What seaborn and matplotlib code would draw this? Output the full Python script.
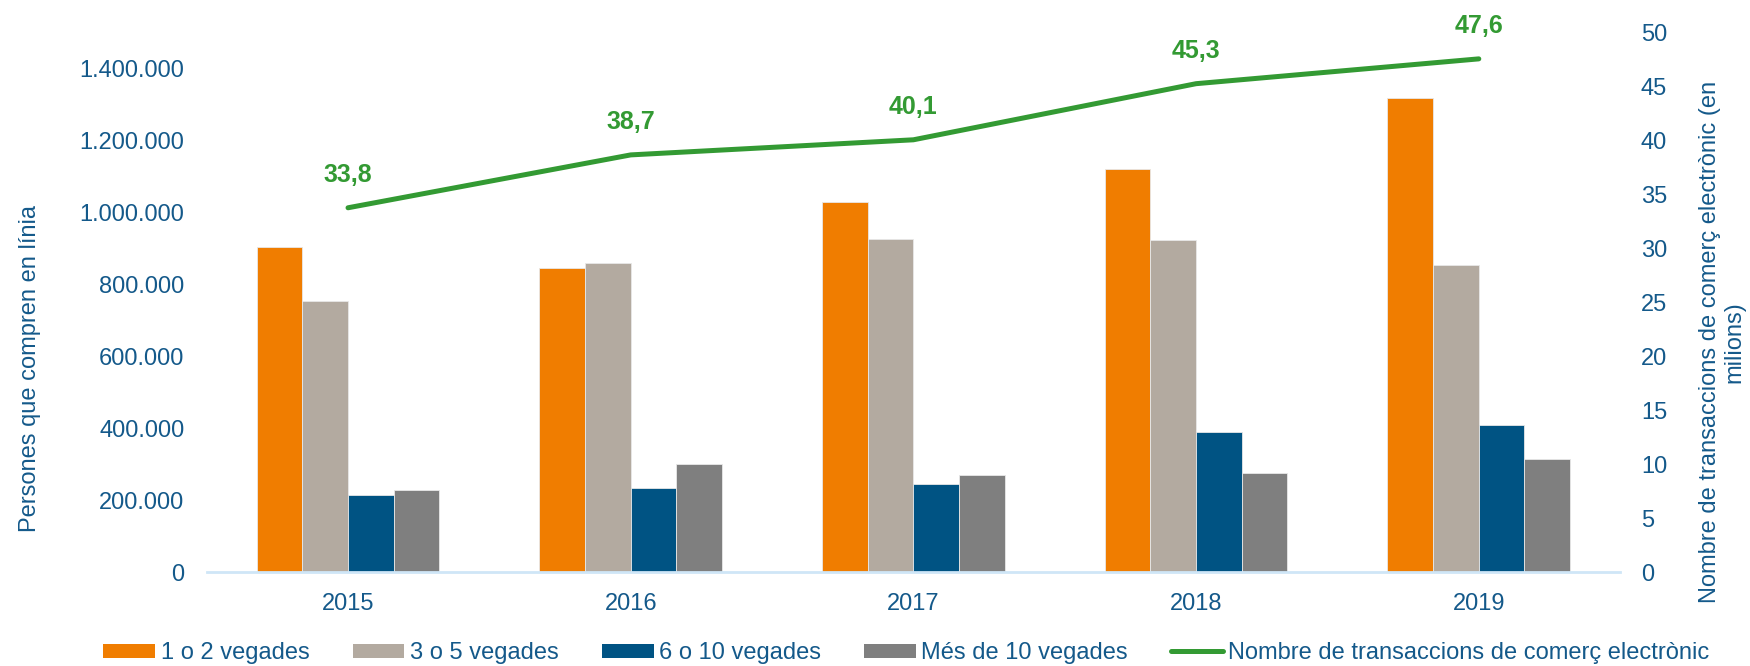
import numpy as np
import pandas as pd
import matplotlib
matplotlib.use("Agg")
import matplotlib.pyplot as plt
import seaborn as sns
from matplotlib.patches import Patch
from matplotlib.ticker import FuncFormatter

years = ["2015", "2016", "2017", "2018", "2019"]
series_names = ["1 o 2 vegades", "3 o 5 vegades", "6 o 10 vegades", "Més de 10 vegades"]
v_1_2 = [905000, 846000, 1030000, 1123000, 1319000]
v_3_5 = [755000, 861000, 927000, 925000, 855000]
v_6_10 = [216000, 236000, 247000, 390000, 409000]
v_mes_10 = [229000, 303000, 272000, 277000, 316000]
transaccions = [33.8, 38.7, 40.1, 45.3, 47.6]
line_name = "Nombre de transaccions de comerç electrònic"

colors = ["#F07D00", "#B3AAA0", "#005383", "#7F7F7F"]
green = "#339A33"
txt = "#14598A"
FS = 17

sns.set_theme(style="white")
plt.rcParams["font.family"] = ["Liberation Sans", "DejaVu Sans"]

df = pd.DataFrame({
    "any": years * 4,
    "serie": np.repeat(series_names, len(years)),
    "valor": v_1_2 + v_3_5 + v_6_10 + v_mes_10,
})

fig = plt.figure(figsize=(17.5, 6.66), dpi=100)
ax = fig.add_axes([0.1181, 0.1404, 0.8077, 0.8101])

sns.barplot(data=df, x="any", y="valor", hue="serie", hue_order=series_names,
            palette=colors, saturation=1, width=0.646, gap=0,
            edgecolor="#e8e8e8", linewidth=0.6, ax=ax, legend=False)

ax.set_ylim(0, 1500000)
ax.set_yticks(np.arange(0, 1400001, 200000))
ax.yaxis.set_major_formatter(FuncFormatter(lambda v, p: f"{int(v):,}".replace(",", ".")))
ax.set_xlim(-0.5, 4.5)
ax.set_xlabel("")
ax.set_ylabel("Persones que compren en línia", color=txt, fontsize=FS)
ax.yaxis.set_label_coords(-0.1175, 0.379)
ax.tick_params(axis="y", length=0, pad=16, labelsize=FS, labelcolor=txt)
ax.tick_params(axis="x", length=0, pad=15, labelsize=FS, labelcolor=txt)
for s in ["top", "right", "left"]:
    ax.spines[s].set_visible(False)
ax.spines["bottom"].set_color("#CFE6F7")
ax.spines["bottom"].set_linewidth(2)
ax.grid(False)

ax2 = ax.twinx()
x_pos = np.arange(len(years))
sns.lineplot(x=x_pos, y=transaccions, ax=ax2, color=green, linewidth=3.6,
             solid_capstyle="round", solid_joinstyle="round", label=line_name, legend=False)
ax2.set_ylim(0, 50)
ax2.set_yticks(np.arange(0, 51, 5))
ax2.tick_params(axis="y", length=0, pad=15, labelsize=FS, labelcolor=txt)
for s in ["top", "right", "left", "bottom"]:
    ax2.spines[s].set_visible(False)
ax2.grid(False)
ax2.set_ylabel("Nombre de transaccions de comerç electrònic (en\nmilions)",
               color=txt, fontsize=FS, linespacing=1.1, ha="center")
ax2.yaxis.set_label_coords(1.056, 0.427)

for xi, yv in zip(x_pos, transaccions):
    ax2.annotate(f"{yv:.1f}".replace(".", ","), (xi, yv), xytext=(0, 23.5),
                 textcoords="offset points", ha="center", va="center",
                 fontsize=18, fontweight="bold", color=green)

handles = [Patch(facecolor=c, edgecolor="none") for c in colors] + [ax2.lines[0]]
labels = series_names + [line_name]
fig.legend(handles, labels, loc="center", bbox_to_anchor=(0.518, 0.0195), ncol=5,
           frameon=False, fontsize=FS, handlelength=2.2, handleheight=0.55,
           handletextpad=0.23, columnspacing=1.82, labelcolor=txt,
           borderpad=0, borderaxespad=0)

fig.savefig("out.png", dpi=100)
